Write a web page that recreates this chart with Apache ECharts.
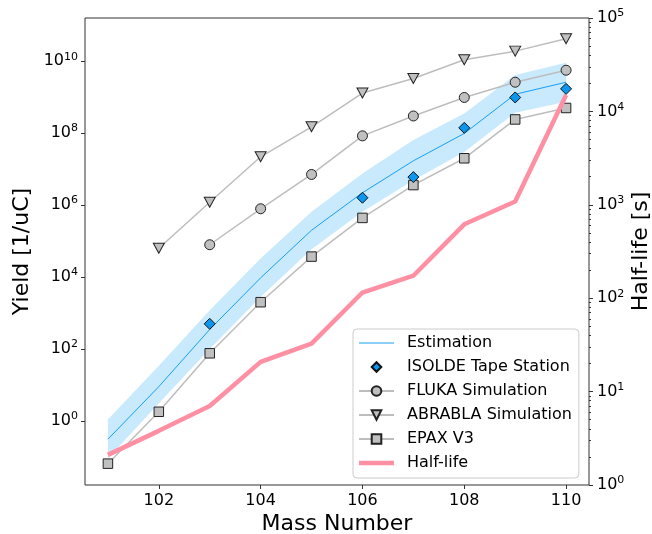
<!DOCTYPE html>
<html><head><meta charset="utf-8">
<script src="https://cdn.jsdelivr.net/npm/echarts@6/dist/echarts.min.js"></script>
<style>html,body{margin:0;padding:0;background:#fff}#c{width:652px;height:534px}</style>
</head><body><div id="c"></div>
<script>
// ---- data ----
const massNumbers = [101, 102, 103, 104, 105, 106, 107, 108, 109, 110];
const estimation = [0.31, 9, 350, 9.5e3, 2.0e5, 2.2e6, 1.7e7, 9.8e7, 1.2e9, 2.6e9];
const estimationUpper = [1.1, 34, 1200, 3.3e4, 6.5e5, 7.6e6, 6.4e7, 3.5e8, 4.1e9, 9.0e9];
const estimationLower = [0.09, 3.1, 100, 2.8e3, 5.9e4, 6.5e5, 4.9e6, 3.0e7, 3.7e8, 7.4e8];
const isoldeMass = [103, 106, 107, 108, 109, 110];
const isoldeYield = [5.0e2, 1.6e6, 6.0e6, 1.4e8, 9.8e8, 1.7e9];
const flukaMass = [103, 104, 105, 106, 107, 108, 109, 110];
const flukaYield = [7.9e4, 7.9e5, 7.1e6, 8.4e7, 3.0e8, 9.8e8, 2.6e9, 5.6e9];
const abrablaMass = [102, 103, 104, 105, 106, 107, 108, 109, 110];
const abrablaYield = [6.3e4, 1.2e6, 2.2e7, 1.5e8, 1.3e9, 3.3e9, 1.1e10, 1.9e10, 4.2e10];
const epaxMass = [101, 102, 103, 104, 105, 106, 107, 108, 109, 110];
const epaxYield = [0.065, 1.8, 76, 2.0e3, 3.7e4, 4.4e5, 3.6e6, 2.0e7, 2.4e8, 5.0e8];
const halfLifeMass = [101, 102, 103, 104, 105, 106, 107, 108, 109, 110];
const halfLife = [2.1, 3.8, 7.0, 20.8, 32.7, 115, 174, 618, 1086, 14954];

// ---- chart ----
const FONT = 'DejaVu Sans';
const pairs = (xs, ys) => xs.map((x, i) => [x, ys[i]]);
const supRich = {
  b: { fontSize: 16, fontFamily: FONT, color: '#000', lineHeight: 20 },
  s: { fontSize: 11, fontFamily: FONT, color: '#000', lineHeight: 12, verticalAlign: 'top' }
};
const powLabel = e => '{b|10}{s|' + e + '}';
const GREY_LINE = '#bdbdbd', GREY_FILL = '#c0c0c0', EDGE = '#222';
const BLUE_LINE = '#16a0f5', PINK = '#ff8fa2';

const chart = echarts.init(document.getElementById('c'), null, { renderer: 'canvas' });
chart.setOption({
  animation: false,
  backgroundColor: '#fff',
  textStyle: { fontFamily: FONT },
  grid: { left: 85, right: 63, top: 18, bottom: 49, show: true, borderColor: '#333', borderWidth: 1, outerBoundsMode: 'none' },
  legend: {
    data: [
      { name: 'Estimation', icon: 'path://M0,0H35V1.2H0Z', itemStyle: { color: BLUE_LINE, borderWidth: 0 } },
      { name: 'ISOLDE Tape Station' },
      { name: 'FLUKA Simulation' },
      { name: 'ABRABLA Simulation' },
      { name: 'EPAX V3' },
      { name: 'Half-life', icon: 'path://M0,0H35V4.5H0Z', itemStyle: { color: PINK, borderWidth: 0 } }
    ],
    orient: 'vertical',
    left: 353, top: 329,
    padding: [5, 7, 6, 5],
    itemWidth: 35, itemHeight: 12, itemGap: 6,
    backgroundColor: 'rgba(255,255,255,0.85)',
    borderColor: '#cccccc', borderWidth: 1, borderRadius: 4,
    textStyle: { fontSize: 16, fontFamily: FONT, color: '#000', lineHeight: 18, padding: [0, 0, 0, 8] }
  },
  xAxis: {
    type: 'value', min: 100.55, max: 110.45, splitNumber: 5,
    name: 'Mass Number', nameLocation: 'middle', nameGap: 28, nameMoveOverlap: false,
    nameTextStyle: { fontSize: 22, fontFamily: FONT, color: '#000' },
    axisLine: { show: false, onZero: false },
    axisTick: { show: true, length: 4, lineStyle: { color: '#333' } },
    axisLabel: { fontSize: 16, fontFamily: FONT, color: '#000', margin: 8, showMinLabel: false, showMaxLabel: false },
    splitLine: { show: false }
  },
  yAxis: [
    {
      type: 'log', min: Math.pow(10, -1.78), max: Math.pow(10, 11.2), position: 'left',
      name: 'Yield [1/uC]', nameLocation: 'middle', nameGap: 52, nameRotate: 90, nameMoveOverlap: false,
      nameTextStyle: { fontSize: 22, fontFamily: FONT, color: '#000' },
      axisLine: { show: false, onZero: false }, axisTick: { show: false }, axisLabel: { show: false },
      splitLine: { show: false }
    },
    {
      type: 'log', min: 1, max: 1e5, position: 'right',
      name: 'Half-life [s]', nameLocation: 'middle', nameGap: 41, nameRotate: 90, nameMoveOverlap: false,
      nameTextStyle: { fontSize: 22, fontFamily: FONT, color: '#000' },
      axisLine: { show: false, onZero: false },
      axisTick: { show: true, length: 4, lineStyle: { color: '#333' } },
      minorTick: { show: true, splitNumber: 9, length: 2, lineStyle: { color: '#333' } },
      axisLabel: { margin: 8, formatter: v => powLabel(Math.round(Math.log10(v))), rich: supRich },
      splitLine: { show: false }
    },
    {
      // tick/label scale for the left axis: exponent of the yield (log10)
      type: 'value', min: -1.78, max: 11.2, splitNumber: 6, position: 'left',
      axisLine: { show: false, onZero: false },
      axisTick: { show: true, length: 4, lineStyle: { color: '#333' } },
      axisLabel: { margin: 7, showMinLabel: false, showMaxLabel: false, formatter: v => powLabel(Math.round(v)), rich: supRich },
      splitLine: { show: false }
    }
  ],
  series: [
    {
      name: 'band', type: 'custom', yAxisIndex: 0, silent: true, z: 1, clip: true,
      data: massNumbers.map((m, i) => [m, estimationLower[i], estimationUpper[i]]),
      encode: { x: 0, y: [1, 2] },
      renderItem: (params, api) => {
        if (params.dataIndex !== 0) return null;
        const pts = [];
        for (let i = 0; i < massNumbers.length; i++) pts.push(api.coord([massNumbers[i], estimationUpper[i]]));
        for (let i = massNumbers.length - 1; i >= 0; i--) pts.push(api.coord([massNumbers[i], estimationLower[i]]));
        return { type: 'polygon', shape: { points: pts }, style: { fill: 'rgba(135,206,250,0.45)', stroke: null } };
      }
    },
    {
      name: 'FLUKA Simulation', type: 'line', yAxisIndex: 0, data: pairs(flukaMass, flukaYield),
      symbol: 'circle', symbolSize: 10, z: 2,
      lineStyle: { color: GREY_LINE, width: 1.5 },
      itemStyle: { color: GREY_FILL, borderColor: EDGE, borderWidth: 1 }
    },
    {
      name: 'ABRABLA Simulation', type: 'line', yAxisIndex: 0, data: pairs(abrablaMass, abrablaYield),
      symbol: 'triangle', symbolRotate: 180, symbolSize: [11, 10], z: 2,
      lineStyle: { color: GREY_LINE, width: 1.5 },
      itemStyle: { color: GREY_FILL, borderColor: EDGE, borderWidth: 1 }
    },
    {
      name: 'EPAX V3', type: 'line', yAxisIndex: 0, data: pairs(epaxMass, epaxYield),
      symbol: 'rect', symbolSize: 9.5, z: 2,
      lineStyle: { color: GREY_LINE, width: 1.5 },
      itemStyle: { color: GREY_FILL, borderColor: EDGE, borderWidth: 1 }
    },
    {
      name: 'Estimation', type: 'line', yAxisIndex: 0, data: pairs(massNumbers, estimation),
      symbol: 'none', z: 2,
      lineStyle: { color: BLUE_LINE, width: 1 },
      itemStyle: { color: BLUE_LINE }
    },
    {
      name: 'ISOLDE Tape Station', type: 'line', yAxisIndex: 0, data: pairs(isoldeMass, isoldeYield),
      symbol: 'diamond', symbolSize: 11, z: 3,
      lineStyle: { width: 0, opacity: 0 },
      itemStyle: { color: '#0b96ef', borderColor: '#111', borderWidth: 1, opacity: 1 }
    },
    {
      name: 'Half-life', type: 'line', yAxisIndex: 1, data: pairs(halfLifeMass, halfLife),
      symbol: 'none', z: 3,
      lineStyle: { color: PINK, width: 4.5 },
      itemStyle: { color: PINK }
    }
  ]
});
</script>
</body></html>
